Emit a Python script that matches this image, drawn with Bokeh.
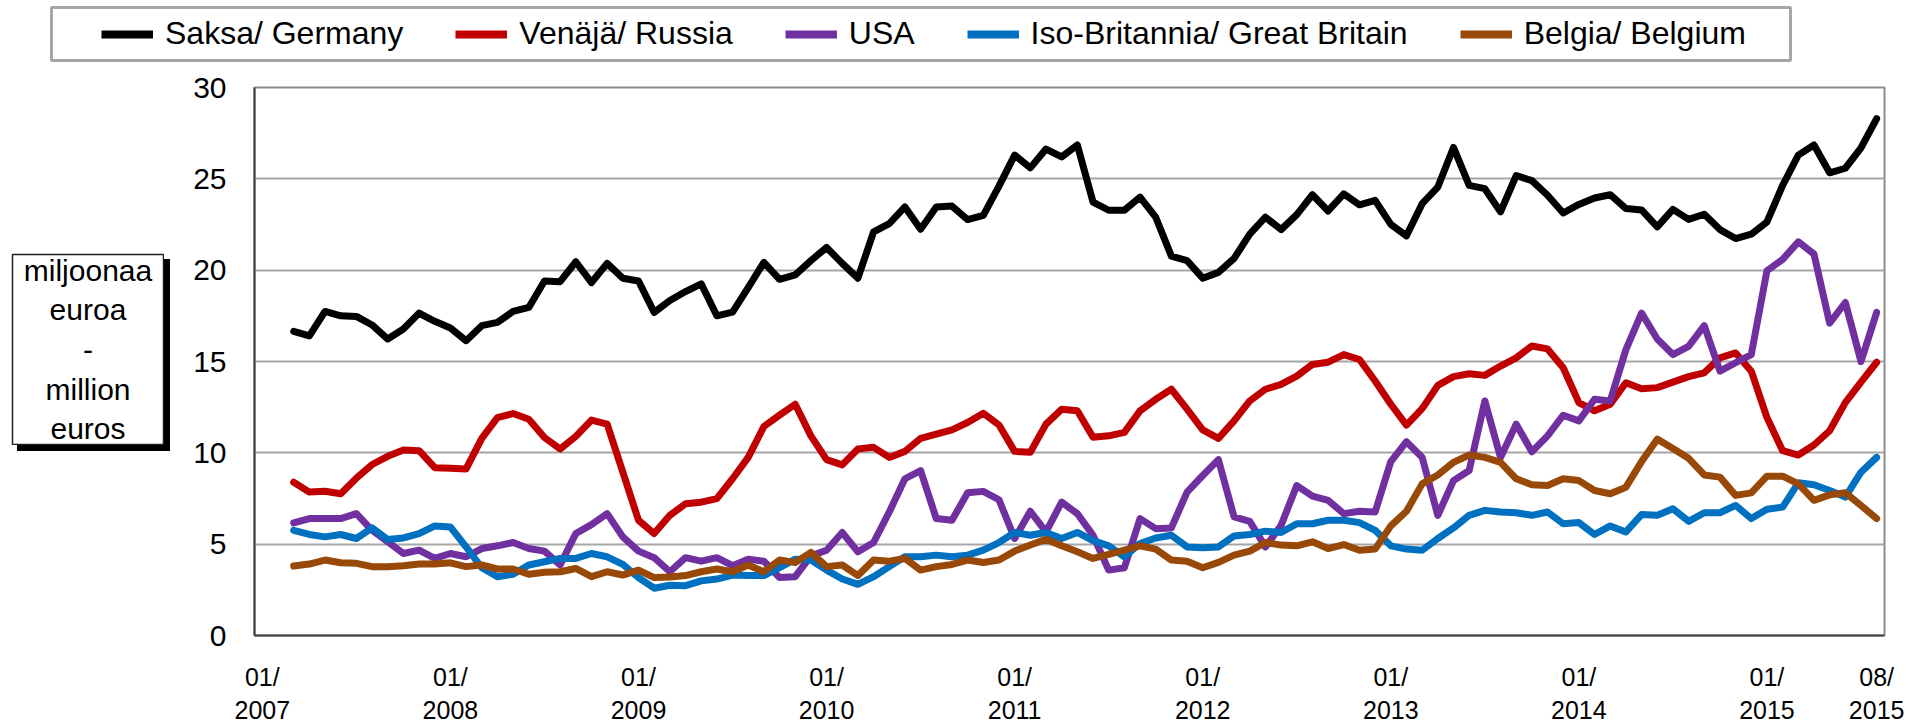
from bokeh.plotting import figure
from bokeh.models import FixedTicker, Legend, LegendItem, Label, Spacer
from bokeh.layouts import column, row
from bokeh.embed import file_html
from bokeh.resources import INLINE

# month index: 0 = 01/2007 ... 103 = 08/2015 ; data available from 03/2007 (index 2)
months = list(range(2, 104))

germany = [16.65, 16.4, 17.74, 17.5, 17.47, 17.0, 16.23, 16.78, 17.65, 17.2, 16.83, 16.14, 16.96, 17.14,
           17.74, 17.96, 19.41, 19.37, 20.46, 19.32, 20.37, 19.56, 19.41, 17.69, 18.34, 18.83, 19.25, 17.5,
           17.7, 19.05, 20.43, 19.5, 19.74, 20.52, 21.24, 20.37, 19.56, 22.1, 22.55, 23.46, 22.24, 23.46,
           23.51, 22.77, 23.0, 24.6, 26.3, 25.6, 26.63, 26.2, 26.85, 23.73, 23.28, 23.28, 24.0, 22.9, 20.77,
           20.52, 19.56, 19.88, 20.64, 21.97, 22.9, 22.22, 23.04, 24.13, 23.24, 24.18, 23.58, 23.82, 22.51,
           21.88, 23.64, 24.55, 26.72, 24.64, 24.46, 23.19, 25.18, 24.9, 24.1, 23.13, 23.6, 23.95, 24.13,
           23.37, 23.3, 22.37, 23.33, 22.78, 23.06, 22.22, 21.73, 21.97, 22.64, 24.64, 26.3, 26.85, 25.33,
           25.58, 26.69, 28.3]
russia = [8.39, 7.85, 7.9, 7.76, 8.61, 9.36, 9.81, 10.15, 10.12, 9.19, 9.16, 9.12, 10.79, 11.93, 12.15,
          11.84, 10.84, 10.21, 10.9, 11.79, 11.57, 8.94, 6.31, 5.58, 6.58, 7.21, 7.3, 7.49, 8.58, 9.75, 11.44,
          12.06, 12.66, 10.93, 9.63, 9.34, 10.21, 10.3, 9.75, 10.08, 10.79, 11.03, 11.26, 11.66, 12.17, 11.52,
          10.08, 10.03, 11.57, 12.39, 12.3, 10.85, 10.93, 11.12, 12.3, 12.93, 13.48, 12.39, 11.26, 10.79,
          11.75, 12.84, 13.48, 13.75, 14.2, 14.84, 14.96, 15.38, 15.11, 13.93, 12.66, 11.52, 12.42, 13.69,
          14.17, 14.33, 14.24, 14.75, 15.2, 15.85, 15.69, 14.66, 12.75, 12.3, 12.66, 13.84, 13.51, 13.57,
          13.87, 14.17, 14.38, 15.2, 15.47, 14.47, 11.93, 10.12, 9.88, 10.43, 11.21, 12.75, 13.87, 14.96]
usa = [6.16, 6.4, 6.4, 6.4, 6.67, 5.76, 5.13, 4.49, 4.67, 4.22, 4.49, 4.31, 4.76, 4.91, 5.09, 4.76, 4.62,
       3.86, 5.58, 6.07, 6.67, 5.4, 4.62, 4.26, 3.49, 4.26, 4.07, 4.26, 3.82, 4.18, 4.07, 3.17, 3.22, 4.36,
       4.67, 5.64, 4.58, 5.09, 6.76, 8.58, 9.03, 6.4, 6.31, 7.81, 7.89, 7.43, 5.31, 6.8, 5.67, 7.3, 6.67,
       5.49, 3.58, 3.71, 6.4, 5.85, 5.89, 7.85, 8.76, 9.63, 6.49, 6.25, 4.85, 6.03, 8.21, 7.63, 7.4, 6.67,
       6.8, 6.76, 9.52, 10.61, 9.75, 6.58, 8.48, 9.03, 12.84, 9.75, 11.57, 10.06, 10.93, 12.06, 11.75,
       12.93, 12.84, 15.65, 17.65, 16.23, 15.38, 15.83, 16.96, 14.47, 14.93, 15.38, 19.97, 20.59, 21.55,
       20.88, 17.1, 18.23, 15.0, 17.69]
britain = [5.76, 5.53, 5.4, 5.53, 5.31, 5.89, 5.25, 5.34, 5.58, 6.0, 5.94, 4.85, 3.71, 3.22, 3.35, 3.86,
           4.04, 4.22, 4.22, 4.49, 4.31, 3.89, 3.17, 2.59, 2.75, 2.73, 2.99, 3.09, 3.31, 3.28, 3.28, 3.71,
           4.18, 4.13, 3.58, 3.09, 2.8, 3.22, 3.77, 4.31, 4.31, 4.4, 4.31, 4.4, 4.67, 5.09, 5.64, 5.49, 5.64,
           5.31, 5.64, 5.2, 4.91, 4.31, 5.04, 5.34, 5.49, 4.85, 4.8, 4.85, 5.45, 5.53, 5.71, 5.64, 6.12, 6.12,
           6.31, 6.31, 6.18, 5.76, 4.91, 4.73, 4.67, 5.31, 5.89, 6.58, 6.85, 6.76, 6.72, 6.58, 6.76, 6.12,
           6.18, 5.53, 6.0, 5.67, 6.62, 6.58, 6.94, 6.25, 6.72, 6.72, 7.12, 6.4, 6.91, 7.03, 8.36, 8.25, 7.94,
           7.58, 8.94, 9.75]
belgium = [3.8, 3.91, 4.13, 3.98, 3.95, 3.77, 3.77, 3.82, 3.91, 3.91, 3.98, 3.77, 3.86, 3.64, 3.64, 3.35,
           3.46, 3.49, 3.67, 3.22, 3.49, 3.31, 3.58, 3.17, 3.2, 3.28, 3.49, 3.64, 3.49, 3.86, 3.49, 4.13, 4.0,
           4.55, 3.77, 3.86, 3.28, 4.13, 4.07, 4.22, 3.58, 3.77, 3.89, 4.13, 4.0, 4.13, 4.62, 4.95, 5.27, 4.91,
           4.58, 4.22, 4.44, 4.67, 4.91, 4.73, 4.13, 4.07, 3.71, 4.0, 4.4, 4.62, 5.09, 4.95, 4.91, 5.13, 4.76,
           4.98, 4.67, 4.73, 6.0, 6.8, 8.3, 8.79, 9.48, 9.88, 9.75, 9.48, 8.58, 8.25, 8.21, 8.58, 8.48, 7.94,
           7.76, 8.12, 9.52, 10.75, 10.24, 9.7, 8.79, 8.67, 7.67, 7.81, 8.72, 8.72, 8.3, 7.4, 7.7, 7.81, 7.12,
           6.4]

series_names = ["Saksa/ Germany", "Venäjä/ Russia", "USA", "Iso-Britannia/ Great Britain", "Belgia/ Belgium"]
series_values = [germany, russia, usa, britain, belgium]
series_colors = ["#000000", "#c00000", "#7030a0", "#0070c0", "#984807"]

tick_positions = [0, 12, 24, 36, 48, 60, 72, 84, 96, 103]
tick_labels = ["01/\n2007", "01/\n2008", "01/\n2009", "01/\n2010", "01/\n2011",
               "01/\n2012", "01/\n2013", "01/\n2014", "01/\n2015", "08/\n2015"]
y_ticks = [0, 5, 10, 15, 20, 25, 30]
unit_text = "miljoonaa\neuroa\n-\nmillion\neuros"

FONT = "Liberation Sans"
LINE_W = 7
UNIT_W = 180
TOP_H = 67          # height of the legend strip
MAIN_H = 727 - TOP_H

# ---------------- main chart ----------------
p = figure(width=1916 - UNIT_W, height=MAIN_H, output_backend="svg", toolbar_location=None,
           x_range=(-0.5, 103.5), y_range=(0, 30),
           min_border_left=254 - UNIT_W, min_border_right=32, min_border_top=87 - TOP_H,
           min_border_bottom=90)
p.background_fill_color = "white"
p.border_fill_color = "white"
p.outline_line_color = "#8c8c8c"
p.outline_line_width = 2

p.xgrid.grid_line_color = None
p.ygrid.grid_line_color = "#a6a6a6"
p.ygrid.grid_line_width = 2
p.ygrid.ticker = FixedTicker(ticks=y_ticks)

p.yaxis.ticker = FixedTicker(ticks=y_ticks)
p.yaxis.major_label_text_font = FONT
p.yaxis.major_label_text_font_size = "30px"
p.yaxis.major_label_text_color = "black"
p.yaxis.major_tick_line_color = None
p.yaxis.major_tick_out = 0
p.yaxis.major_tick_in = 0
p.yaxis.minor_tick_line_color = None
p.yaxis.major_label_standoff = 28
p.yaxis.axis_line_color = "#404040"
p.yaxis.axis_line_width = 2

p.xaxis.ticker = FixedTicker(ticks=tick_positions)
p.xaxis.major_label_overrides = {t: l for t, l in zip(tick_positions, tick_labels)}
p.xaxis.major_label_text_font = FONT
p.xaxis.major_label_text_font_size = "25px"
p.xaxis.major_label_text_color = "black"
p.xaxis.major_tick_line_color = None
p.xaxis.major_tick_out = 0
p.xaxis.major_tick_in = 0
p.xaxis.minor_tick_line_color = None
p.xaxis.major_label_standoff = 27
p.xaxis.axis_line_color = "#404040"
p.xaxis.axis_line_width = 2

for vals, col in zip(series_values, series_colors):
    p.line(months, vals, line_color=col, line_width=LINE_W, line_join="round", line_cap="round")

# ---------------- legend strip (its frame is the legend box) ----------------
lg = figure(width=1916, height=TOP_H, output_backend="svg", toolbar_location=None,
            x_range=(0, 1), y_range=(0, 1), x_axis_location=None, y_axis_location=None,
            min_border_left=51, min_border_right=126, min_border_top=7, min_border_bottom=TOP_H - 60)
lg.grid.visible = False
lg.outline_line_color = "#a6a6a6"
lg.outline_line_width = 3
lg.background_fill_color = "white"
lg.border_fill_color = "white"
items = []
for name, vals, col in zip(series_names, series_values, series_colors):
    # same series, outside this strip's ranges: only its legend sample shows
    r = lg.line(months, vals, line_color=col, line_width=LINE_W + 1)
    items.append(LegendItem(label=name, renderers=[r]))
legend = Legend(items=items, orientation="horizontal", location=(50, 8),
                label_text_font=FONT, label_text_font_size="32px", label_text_color="black",
                glyph_width=52, glyph_height=36, label_height=36, label_standoff=12, spacing=52,
                padding=0, margin=0, border_line_alpha=0, background_fill_alpha=0)
lg.add_layout(legend)

# ---------------- unit box at the left (figure frame = box, CSS shadow) ----------------
BOX_W, BOX_H = 153, 192
BOX_TOP = 253 - TOP_H
uf = figure(width=BOX_W, height=BOX_H, output_backend="svg", toolbar_location=None,
            x_range=(0, 1), y_range=(0, 1), x_axis_location=None, y_axis_location=None,
            min_border_left=1, min_border_right=1, min_border_top=1, min_border_bottom=1)
uf.grid.visible = False
uf.outline_line_color = "#202020"
uf.outline_line_width = 1.5
uf.background_fill_color = "white"
uf.border_fill_color = "white"
uf.styles = {"box-shadow": "6px 6px 0px #000000"}
uf.add_layout(Label(x=0.5, y=0.5, text=unit_text, text_font=FONT, text_font_size="30px",
                    text_align="center", text_baseline="middle", text_line_height=1.2,
                    text_color="black"))

left_col = column(
    Spacer(width=UNIT_W, height=BOX_TOP),
    row(Spacer(width=11, height=BOX_H), uf, Spacer(width=UNIT_W - 11 - BOX_W, height=BOX_H)),
    Spacer(width=UNIT_W, height=MAIN_H - BOX_TOP - BOX_H),
)

layout = column(lg, row(left_col, p))
open("out.html", "w").write(file_html(layout, INLINE))
